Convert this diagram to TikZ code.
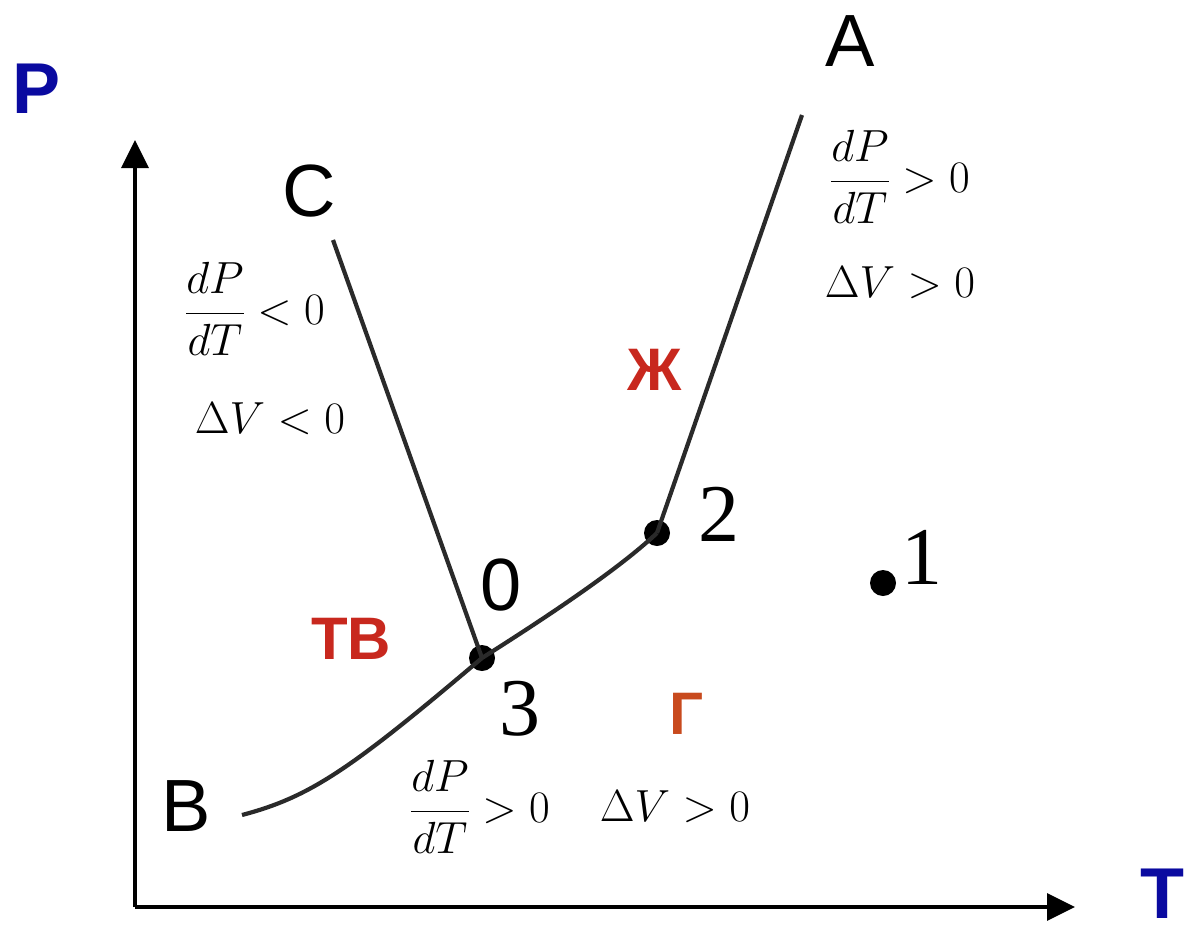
\RequirePackage{fix-cm}
\documentclass[tikz,border=0pt]{standalone}
\usepackage{amsmath}
\usepackage{fontspec}
\setmainfont{Liberation Serif}
\newfontfamily\arialf{Liberation Sans}
\usetikzlibrary{arrows.meta}
\definecolor{axisblue}{HTML}{0A0AA0}
\definecolor{lblred}{HTML}{C8281E}
\definecolor{lblorange}{HTML}{C84A1E}
\definecolor{curvegray}{HTML}{2A2A2A}
\tikzset{
  axis/.style={line width=3.5pt, black, -{Triangle[length=28pt,width=27pt]}},
  curve/.style={line width=4.2pt, curvegray},
  dot/.style={circle, fill=black, inner sep=0pt, minimum size=26pt},
  axlabel/.style={inner sep=0pt, text=axisblue, font=\arialf\bfseries\fontsize{72}{78}\selectfont},
  ptlabel/.style={inner sep=0pt, font=\arialf\fontsize{74}{80}\selectfont},
  numlabel/.style={inner sep=0pt, font=\fontsize{82}{90}\selectfont},
  phase/.style={inner sep=0pt, font=\arialf\bfseries\fontsize{60}{66}\selectfont},
  mathlbl/.style={inner sep=0pt, font=\fontsize{45}{54}\selectfont},
}
\begin{document}
\begin{tikzpicture}[x=1pt,y=-1pt]
\useasboundingbox (0,0) rectangle (1196,934);
% axes
\coordinate (O) at (135,907);
\coordinate (Ptip) at (135,140);
\coordinate (Ttip) at (1075,907);
\draw[axis] (O) -- (Ptip);
\draw[axis] (O) -- (Ttip);
\node[axlabel] (P) at (37,89) {P};
\node[axlabel] (T) at (1162,894) {T};
% key points
\coordinate (Aend) at (802,115);
\coordinate (Cend) at (333,240);
\coordinate (Bend) at (242,815);
\node[dot] (p3) at (482,658) {};
\node[dot] (p2) at (657,533) {};
\node[dot] (p1) at (883,583) {};
% curves
\draw[curve] (Cend) -- (p3.center);
\draw[curve] (p2.center) -- (Aend);
\draw[curve] (Bend) .. controls (310,797) and (350,770) .. (p3.center)
  .. controls (550,615) and (620,568) .. (p2.center);
% letter labels
\node[ptlabel] (A) at (850,41) {A};
\node[ptlabel] (B) at (186,806) {B};
\node[ptlabel] (C) at (309,191) {C};
\node[ptlabel] (zero) at (501,585) {0};
\node[numlabel] (n2) at (719,514) {2};
\node[numlabel] (n3) at (520,709) {3};
\node[numlabel] (n1) at (922,557) {1};
% phase labels
\node[phase, text=lblred] (tv) at (351,639) {ТВ};
\node[phase, text=lblred] (zh) at (655,370) {Ж};
\node[phase, text=lblorange] (g) at (686,714) {Г};
% math labels
\node[mathlbl] (m1) at (255,309) {$\dfrac{dP}{dT} < 0$};
\node[mathlbl] (m2) at (270,419) {$\Delta V < 0$};
\node[mathlbl] (m3) at (900,177) {$\dfrac{dP}{dT} > 0$};
\node[mathlbl] (m4) at (900,283) {$\Delta V > 0$};
\node[mathlbl] (m5) at (480,807) {$\dfrac{dP}{dT} > 0$};
\node[mathlbl] (m6) at (675,807) {$\Delta V > 0$};
\end{tikzpicture}
\end{document}
